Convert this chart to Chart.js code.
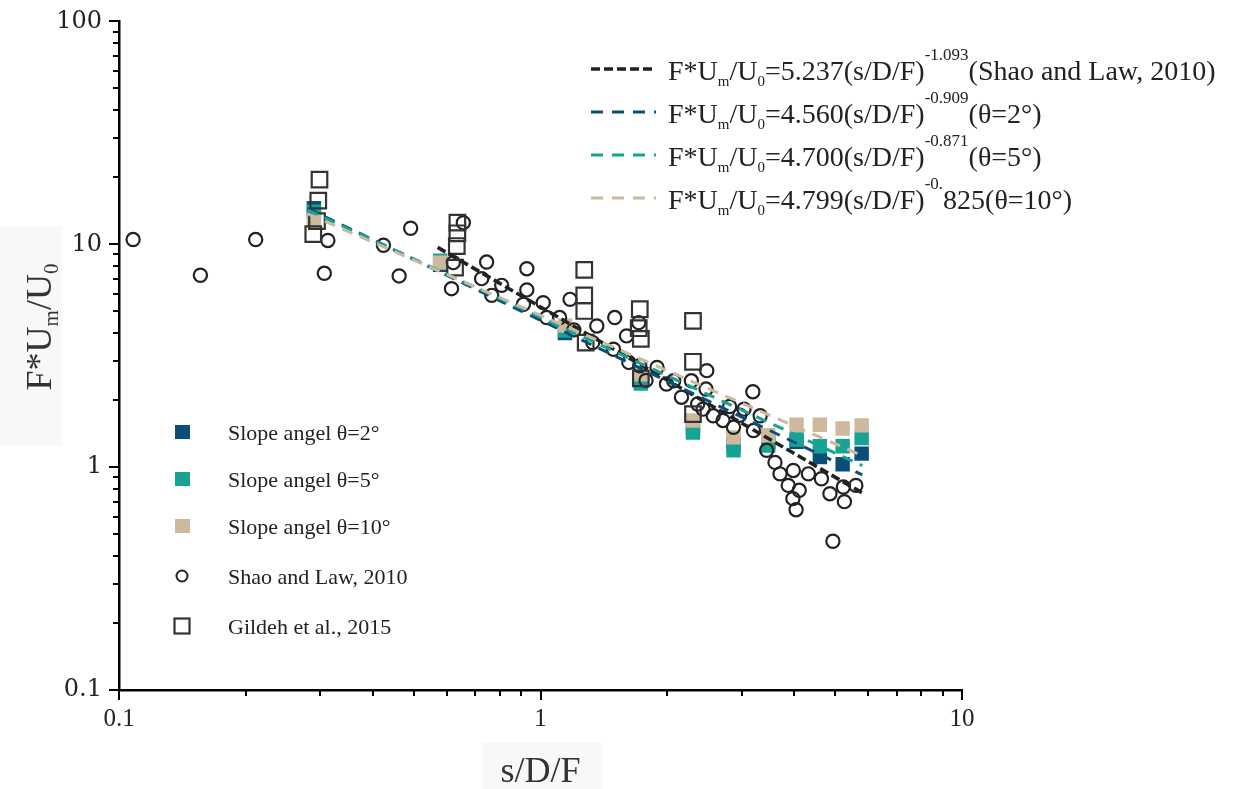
<!DOCTYPE html>
<html>
<head>
<meta charset="utf-8">
<script src="https://cdn.jsdelivr.net/npm/chart.js@4.4.1/dist/chart.umd.min.js"></script>
<style>
  html, body { margin: 0; padding: 0; background: #ffffff; }
  #wrap { width: 1235px; height: 789px; position: relative; }
  canvas { display: block; }
</style>
</head>
<body>
<div id="wrap"><canvas id="chart" width="1235" height="789"></canvas></div>
<script>
// ---- Shao and Law (2010) measurements ----
const shaoX = [0.108, 0.156, 0.211, 0.313, 0.307, 0.424, 0.462, 0.492, 0.656, 0.621, 0.615,
  0.745, 0.725, 0.809, 0.766, 0.928, 0.928, 0.911, 1.015, 1.034, 1.11, 1.175, 1.20, 1.36,
  1.33, 1.50, 1.49, 1.60, 1.71, 1.62, 1.72, 1.78, 1.89, 1.99, 2.07, 2.16, 2.28, 2.48, 2.47,
  2.43, 2.36, 2.57, 2.81, 2.71, 2.87, 3.04, 2.97, 3.19, 3.32, 3.20, 3.44, 3.60, 3.70, 3.98,
  3.87, 4.11, 3.97, 4.04, 4.32, 4.64, 4.86, 5.23, 5.60, 5.26, 4.94];
const shaoY = [10.5, 7.26, 10.5, 10.4, 7.41, 9.9, 7.21, 11.8, 12.5, 8.27, 6.32,
  8.32, 7.01, 6.54, 5.90, 7.77, 6.24, 5.38, 5.47, 4.69, 4.69, 5.66, 4.13, 4.30,
  3.62, 4.69, 3.38, 3.88, 4.45, 2.95, 2.85, 2.45, 2.80, 2.36, 2.44, 2.06, 2.44, 2.71, 2.24,
  1.82, 1.92, 1.70, 1.87, 1.62, 1.51, 1.82, 1.71, 2.18, 1.70, 1.46, 1.19, 1.05, 0.933, 0.966,
  0.828, 0.787, 0.722, 0.644, 0.933, 0.887, 0.760, 0.814, 0.828, 0.70, 0.465];

// ---- Gildeh et al. (2015) measurements ----
const gildehX = [0.299, 0.297, 0.295, 0.289, 0.635, 0.635, 0.633, 0.627,
  1.27, 1.27, 1.27, 1.28, 1.72, 1.71, 1.73, 1.73, 2.30, 2.30, 2.30];
const gildehY = [19.5, 15.7, 12.7, 11.1, 12.5, 11.2, 9.82, 7.85,
  7.67, 5.90, 5.02, 3.62, 5.11, 4.20, 3.76, 2.50, 4.53, 2.97, 1.73];

// ---- present slope-angle runs ----
const slopeX   = [0.29, 0.578, 1.143, 1.73, 2.30, 2.87, 3.47, 4.05, 4.60, 5.21, 5.78];
const theta2Y  = [14.5, 8.09, 4.00, 2.45, 1.50, 1.27, 1.30, 1.30, 1.11, 1.03, 1.15];
const theta5Y  = [14.0, 8.44, 4.10, 2.37, 1.43, 1.19, 1.25, 1.33, 1.24, 1.24, 1.35];
const theta10Y = [12.8, 8.27, 4.32, 2.61, 1.62, 1.36, 1.39, 1.55, 1.55, 1.49, 1.54];

// ---- power-law fits F*Um/U0 = a (s/D/F)^b ----
const fitNames = ['shao', 'theta2', 'theta5', 'theta10'];
const fitCoef  = [5.237, 4.560, 4.700, 4.799];
const fitExp   = [-1.093, -0.909, -0.871, -0.825];
const fitFrom  = [0.57, 0.28, 0.28, 0.28];
const fitTo    = [5.8, 5.8, 5.8, 5.8];

// ---- axis tick labels ----
const xTickLabels = [0.1, 1, 10];
const yTickLabels = [0.1, 1, 10, 100];

const COL_T2 = '#0b4f79';
const COL_T5 = '#17a394';
const COL_T10 = '#cdb99c';
const COL_INK = '#222222';

const SERIF = '"Liberation Serif", "Times New Roman", serif';

function pts(xs, ys) { return xs.map((x, i) => ({ x: x, y: ys[i] })); }
function fitPts(i) {
  const a = fitCoef[i], b = fitExp[i];
  return [fitFrom[i], fitTo[i]].map(x => ({ x: x, y: a * Math.pow(x, b) }));
}

// Rich text helper: segments of [text, kind] where kind = 'n' | 'sub' | 'sup'
function richDraw(ctx, segs, x, y, sizes) {
  let cx = x;
  for (const [t, k] of segs) {
    let fs = sizes.n, dy = 0;
    if (k === 'sub') { fs = sizes.sub; dy = sizes.subDy; }
    if (k === 'sup') { fs = sizes.sup; dy = sizes.supDy; }
    ctx.font = fs + 'px ' + SERIF;
    ctx.fillText(t, cx, y + dy);
    cx += ctx.measureText(t).width;
  }
  return cx - x;
}
function richWidth(ctx, segs, sizes) {
  let w = 0;
  for (const [t, k] of segs) {
    const fs = k === 'sub' ? sizes.sub : (k === 'sup' ? sizes.sup : sizes.n);
    ctx.font = fs + 'px ' + SERIF;
    w += ctx.measureText(t).width;
  }
  return w;
}

const fitLegendRows = [
  { color: '#222222', dash: [9, 4], width: 3.6, segs: [['F*U','n'],['m','sub'],['/U','n'],['0','sub'],['=5.237(s/D/F)','n'],['-1.093','sup'],['(Shao and Law, 2010)','n']] },
  { color: COL_T2, dash: [12, 9], width: 3, segs: [['F*U','n'],['m','sub'],['/U','n'],['0','sub'],['=4.560(s/D/F)','n'],['-0.909','sup'],['(\u03b8=2\u00b0)','n']] },
  { color: COL_T5, dash: [12, 9], width: 3, segs: [['F*U','n'],['m','sub'],['/U','n'],['0','sub'],['=4.700(s/D/F)','n'],['-0.871','sup'],['(\u03b8=5\u00b0)','n']] },
  { color: COL_T10, dash: [12, 9], width: 3, segs: [['F*U','n'],['m','sub'],['/U','n'],['0','sub'],['=4.799(s/D/F)','n'],['-0.','sup'],['825(\u03b8=10\u00b0)','n']] }
];
const fitLegendY = [69, 112, 155, 198];

const markLegendRows = [
  { label: 'Slope angel \u03b8=2\u00b0', kind: 'fill', color: COL_T2 },
  { label: 'Slope angel \u03b8=5\u00b0', kind: 'fill', color: COL_T5 },
  { label: 'Slope angel \u03b8=10\u00b0', kind: 'fill', color: COL_T10 },
  { label: 'Shao and Law, 2010', kind: 'circle', color: COL_INK },
  { label: 'Gildeh et al., 2015', kind: 'square', color: '#333333' }
];
const markLegendY = [432, 479, 526, 576, 626];

const decor = {
  id: 'decor',
  beforeDraw(chart) {
    const ctx = chart.ctx;
    ctx.save();
    ctx.fillStyle = '#ffffff';
    ctx.fillRect(0, 0, chart.width, chart.height);
    // faint panels behind the axis titles
    ctx.fillStyle = '#f8f8f8';
    ctx.fillRect(0, 226, 62, 220);
    ctx.fillRect(482, 742, 120, 47);
    ctx.restore();
  },
  afterDraw(chart) {
    const ctx = chart.ctx;
    const xs = chart.scales.x, ys = chart.scales.y;
    const area = chart.chartArea;
    ctx.save();
    // tick marks (major + minor) on both axes
    ctx.strokeStyle = '#000';
    ctx.lineWidth = 2;
    for (let e = -1; e <= 1; e++) {
      for (let m = 1; m <= 9; m++) {
        const v = m * Math.pow(10, e);
        if (v < 0.1 - 1e-9 || v > 10 + 1e-9) continue;
        const px = Math.round(xs.getPixelForValue(v));
        const len = m === 1 ? 10 : 6;
        ctx.beginPath(); ctx.moveTo(px, area.bottom); ctx.lineTo(px, area.bottom + len); ctx.stroke();
      }
    }
    {
      const px = Math.round(xs.getPixelForValue(10));
      ctx.beginPath(); ctx.moveTo(px, area.bottom); ctx.lineTo(px, area.bottom + 10); ctx.stroke();
    }
    for (let e = -1; e <= 2; e++) {
      for (let m = 1; m <= 9; m++) {
        const v = m * Math.pow(10, e);
        if (v < 0.1 - 1e-9 || v > 100 + 1e-9) continue;
        const py = Math.round(ys.getPixelForValue(v));
        const len = m === 1 ? 10 : 6;
        ctx.beginPath(); ctx.moveTo(area.left, py); ctx.lineTo(area.left - len, py); ctx.stroke();
      }
    }

    // axis titles
    ctx.fillStyle = '#333333';
    ctx.textBaseline = 'alphabetic';
    ctx.font = '36px ' + SERIF;
    ctx.textAlign = 'center';
    ctx.fillText('s/D/F', (area.left + area.right) / 2, 782);
    ctx.textAlign = 'left';
    const ySegs = [['F*U','n'],['m','sub'],['/U','n'],['0','sub']];
    const ySizes = { n: 36, sub: 21, subDy: 7, sup: 21, supDy: -14 };
    const yw = richWidth(ctx, ySegs, ySizes);
    ctx.save();
    ctx.translate(51, 327);
    ctx.rotate(-Math.PI / 2);
    richDraw(ctx, ySegs, -yw / 2, 0, ySizes);
    ctx.restore();

    // legend of fitted curves (top right)
    const lSizes = { n: 28, sub: 15, subDy: 6, sup: 17, supDy: -20 };
    fitLegendRows.forEach((r, i) => {
      const y = fitLegendY[i];
      ctx.save();
      ctx.strokeStyle = r.color;
      ctx.lineWidth = r.width;
      ctx.setLineDash(r.dash);
      ctx.beginPath(); ctx.moveTo(591, y); ctx.lineTo(656, y); ctx.stroke();
      ctx.restore();
      ctx.fillStyle = '#222222';
      richDraw(ctx, r.segs, 668, y + 11, lSizes);
    });

    // legend of data markers (bottom left)
    markLegendRows.forEach((r, i) => {
      const y = markLegendY[i];
      const x = 182;
      if (r.kind === 'fill') {
        ctx.fillStyle = r.color;
        ctx.fillRect(x - 7, y - 7, 15, 14);
      } else if (r.kind === 'circle') {
        ctx.strokeStyle = r.color; ctx.lineWidth = 2;
        ctx.beginPath(); ctx.arc(x, y, 5.5, 0, Math.PI * 2); ctx.stroke();
      } else {
        ctx.strokeStyle = r.color; ctx.lineWidth = 2.2;
        ctx.strokeRect(x - 7.5, y - 7.5, 15, 15);
      }
      ctx.fillStyle = '#222222';
      ctx.font = '22px ' + SERIF;
      ctx.fillText(r.label, 228, y + 8);
    });
    ctx.restore();
  }
};

function isDecade(v) {
  const l = Math.log10(v);
  return Math.abs(l - Math.round(l)) < 1e-9;
}

const fitColors = [COL_INK, COL_T2, COL_T5, COL_T10];
const fitDash = [[9, 4], [11, 8], [11, 8], [11, 8]];
const fitWidth = [3.6, 3, 3, 3];

const datasets = [];
fitNames.forEach((n, i) => {
  datasets.push({
    type: 'line', label: n, data: fitPts(i),
    borderColor: fitColors[i], borderWidth: fitWidth[i], borderDash: fitDash[i],
    pointRadius: 0, fill: false, order: 1 + (3 - i) * 0.1
  });
});
datasets.push({
  label: 'Gildeh et al., 2015', data: pts(gildehX, gildehY),
  pointStyle: 'rect', pointRadius: 11, borderColor: '#333333', borderWidth: 2.2,
  backgroundColor: 'rgba(0,0,0,0)', order: 2
});
datasets.push({
  label: 'Shao and Law, 2010', data: pts(shaoX, shaoY),
  pointStyle: 'circle', pointRadius: 6.6, borderColor: COL_INK, borderWidth: 2.2,
  backgroundColor: 'rgba(0,0,0,0)', order: 3
});
datasets.push({
  label: 'Slope angel \u03b8=10\u00b0', data: pts(slopeX, theta10Y),
  pointStyle: 'rect', pointRadius: 10.2, borderWidth: 0, backgroundColor: COL_T10, borderColor: COL_T10, order: 4
});
datasets.push({
  label: 'Slope angel \u03b8=5\u00b0', data: pts(slopeX, theta5Y),
  pointStyle: 'rect', pointRadius: 10.2, borderWidth: 0, backgroundColor: COL_T5, borderColor: COL_T5, order: 5
});
datasets.push({
  label: 'Slope angel \u03b8=2\u00b0', data: pts(slopeX, theta2Y),
  pointStyle: 'rect', pointRadius: 10.2, borderWidth: 0, backgroundColor: COL_T2, borderColor: COL_T2, order: 6
});

new Chart(document.getElementById('chart'), {
  type: 'scatter',
  data: { datasets: datasets },
  options: {
    responsive: false,
    animation: false,
    devicePixelRatio: 1,
    layout: { padding: { top: 21, right: 273, left: 0, bottom: 0 } },
    plugins: { legend: { display: false }, tooltip: { enabled: false } },
    scales: {
      x: {
        type: 'logarithmic', min: 0.1, max: 10,
        afterFit(s) { s.height = 99; },
        border: { display: true, color: '#000', width: 2.5 },
        grid: { drawOnChartArea: false, drawTicks: true, tickLength: 10, tickColor: 'rgba(0,0,0,0)' },
        ticks: {
          autoSkip: false, maxRotation: 0, padding: 4, color: '#222',
          font: { family: SERIF, size: 25 },
          callback: (v) => (isDecade(v) && xTickLabels.some(t => Math.abs(t - v) < 1e-9)) ? String(v) : ''
        }
      },
      y: {
        type: 'logarithmic', min: 0.1, max: 100,
        afterFit(s) { s.width = 119; },
        border: { display: true, color: '#000', width: 2.5 },
        grid: { drawOnChartArea: false, drawTicks: true, tickLength: 10, tickColor: 'rgba(0,0,0,0)' },
        ticks: {
          autoSkip: false, padding: 7, color: '#222',
          font: { family: '"DejaVu Serif", serif', size: 24 },
          callback: (v) => (isDecade(v) && yTickLabels.some(t => Math.abs(t - v) < 1e-9)) ? String(v) : ''
        }
      }
    }
  },
  plugins: [decor]
});
</script>
</body>
</html>
